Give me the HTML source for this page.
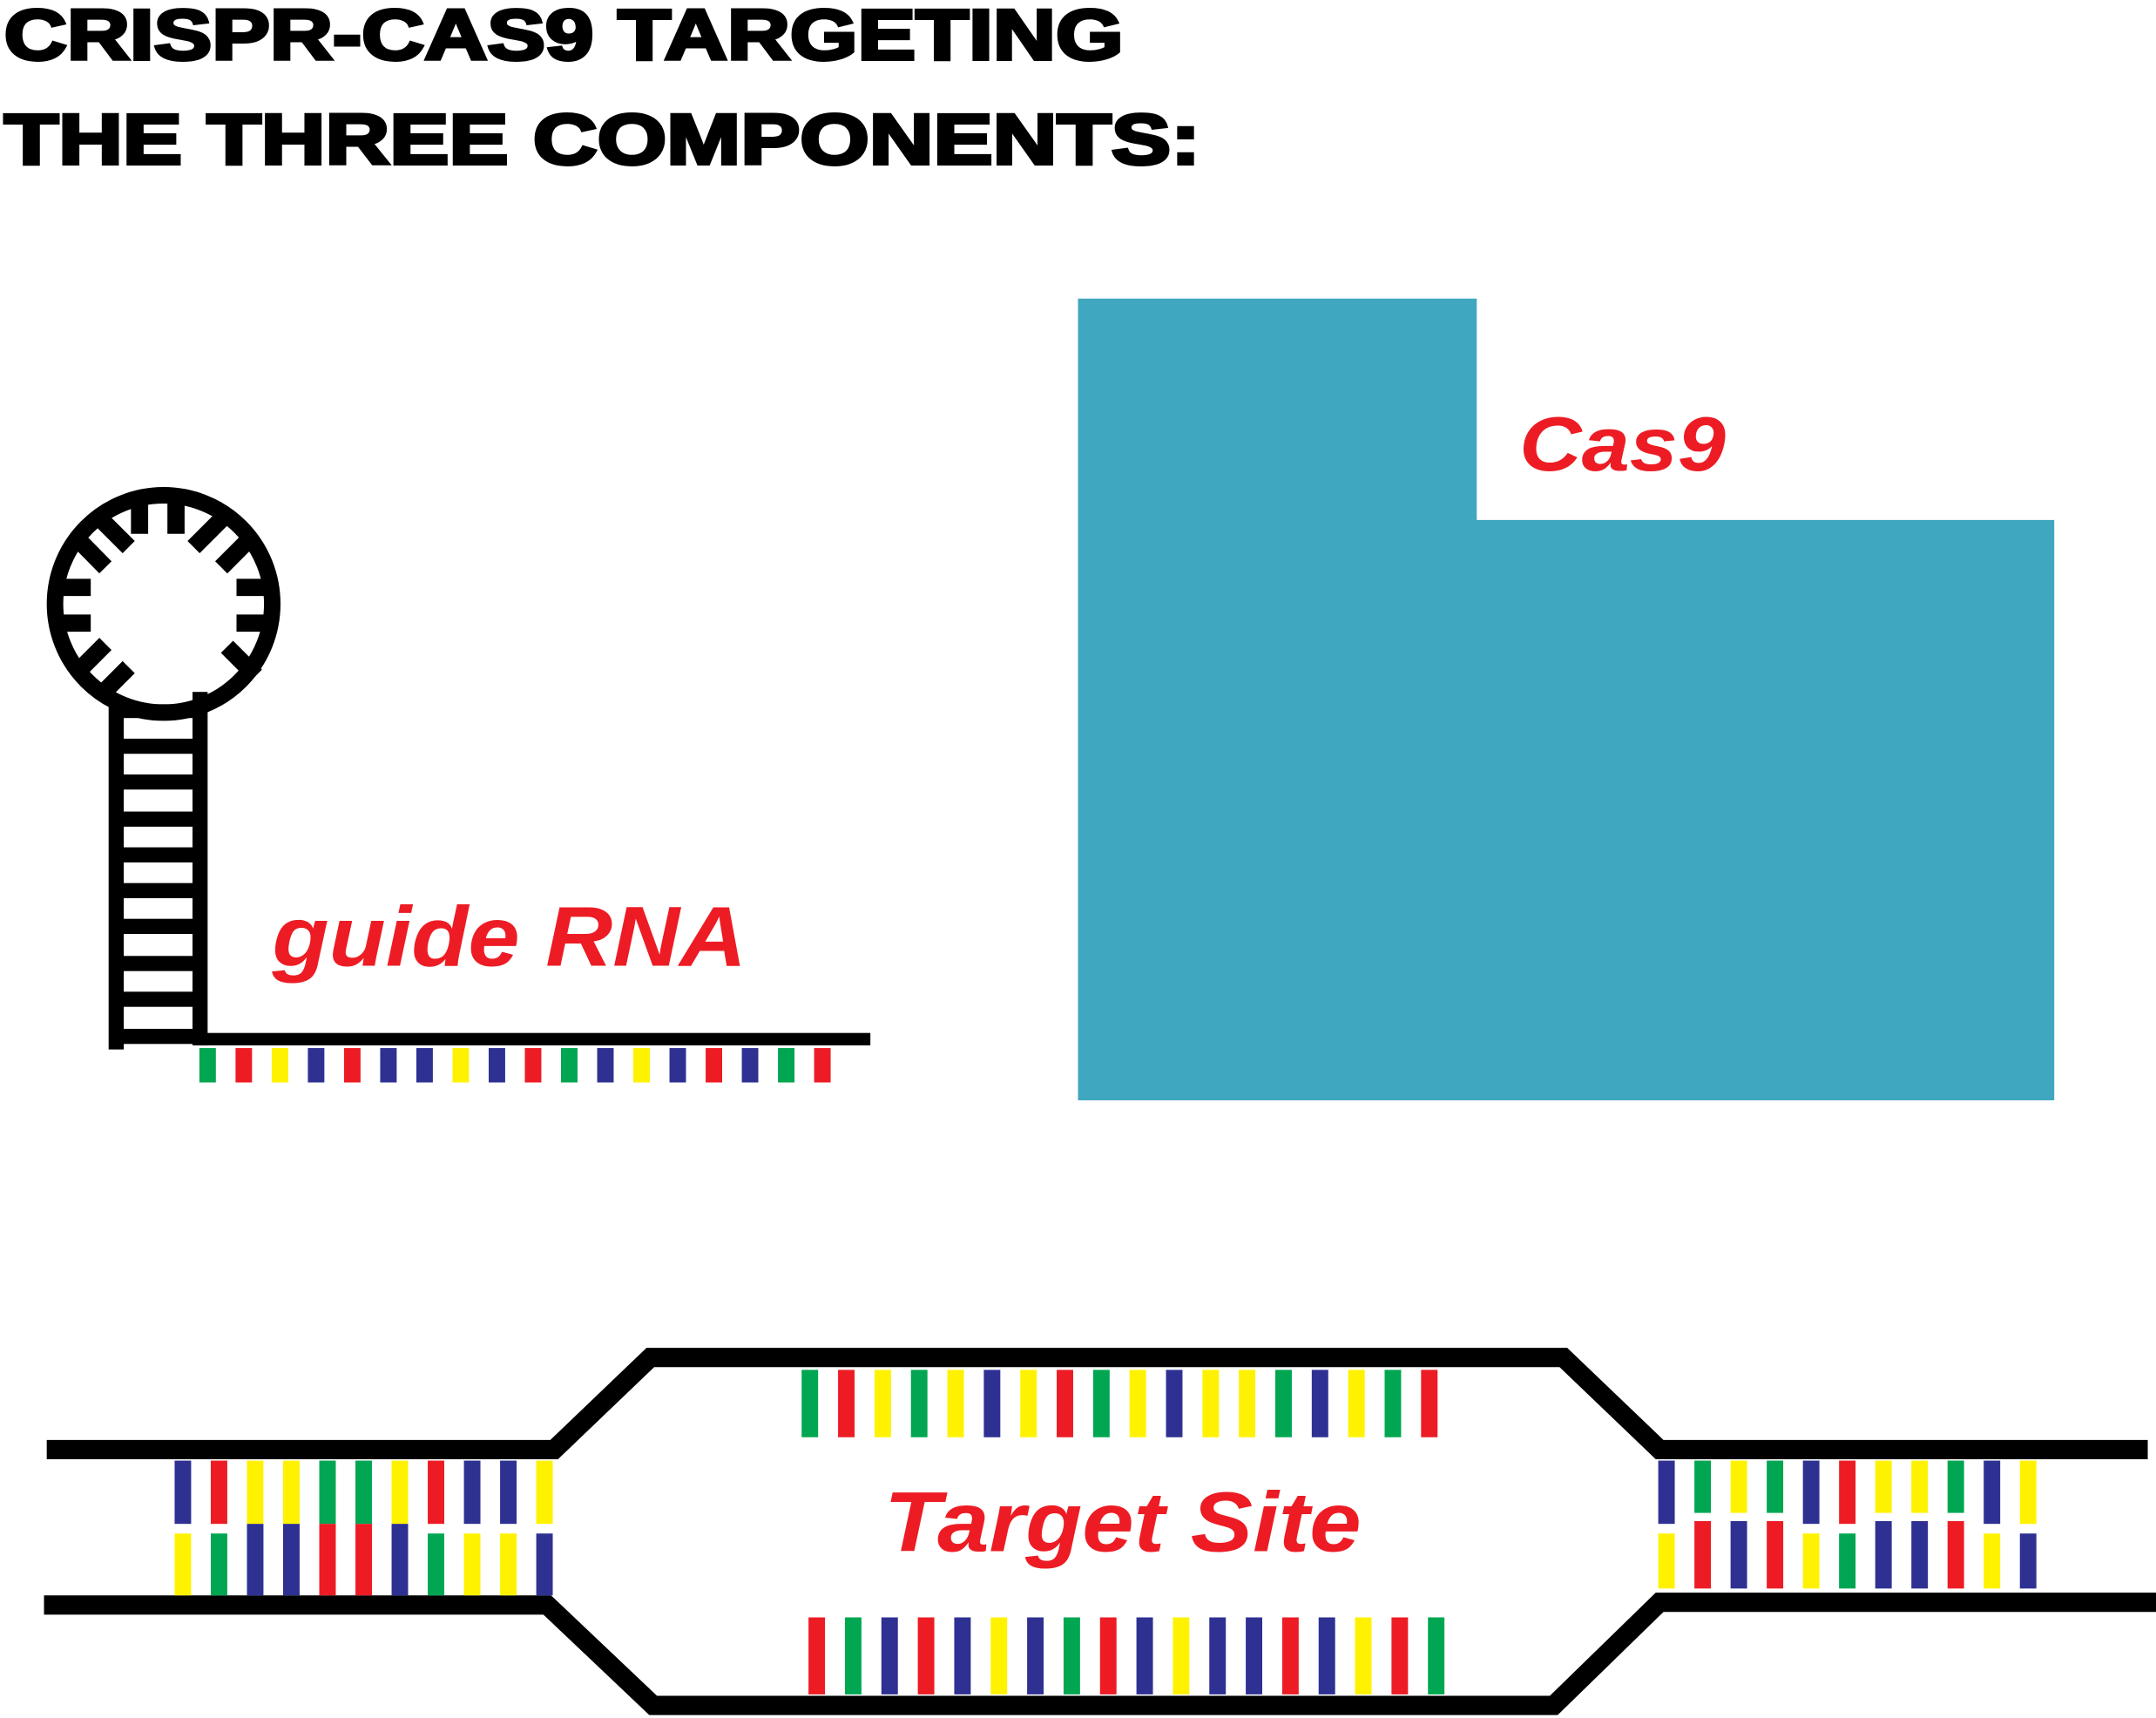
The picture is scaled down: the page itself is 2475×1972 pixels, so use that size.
<!DOCTYPE html>
<html><head><meta charset="utf-8"><style>html,body{margin:0;padding:0;background:#fff}svg{display:block}.G{fill:#00a651}.R{fill:#ed1c24}.Y{fill:#fff200}.B{fill:#2e3192}</style></head>
<body>
<svg width="2475" height="1972" viewBox="0 0 1568 1249" xmlns="http://www.w3.org/2000/svg">
<rect width="1568" height="1249" fill="#fff"/>
<g font-family="Liberation Sans, sans-serif" font-weight="bold" fill="#000" stroke="#000" stroke-width="2.5">
<text x="3" y="43" font-size="52" textLength="814" lengthAdjust="spacingAndGlyphs">CRISPR-CAS9 TARGETING</text>
<text x="3" y="119" font-size="52" textLength="870" lengthAdjust="spacingAndGlyphs">THE THREE COMPONENTS:</text>
</g>
<polygon points="784,217 1074,217 1074,378 1494,378 1494,800 784,800" fill="#3fa7bf"/>
<text x="1105" y="342" font-family="Liberation Sans, sans-serif" font-weight="bold" font-style="italic" font-size="56" fill="#ed1c24" textLength="150" lengthAdjust="spacingAndGlyphs">Cas9</text>
<circle cx="119" cy="439" r="79" fill="none" stroke="#000" stroke-width="12"/>
<g stroke="#000" stroke-width="12.5">
<line x1="101.5" y1="366" x2="101.5" y2="388"/><line x1="128" y1="366" x2="128" y2="388"/>
<line x1="56" y1="391.4" x2="76.7" y2="412.4"/><line x1="72.6" y1="376.7" x2="93.6" y2="397.7"/>
<line x1="161.8" y1="376.7" x2="140.8" y2="397.7"/><line x1="181.9" y1="391.4" x2="160.9" y2="412.4"/>
<line x1="45" y1="427" x2="66" y2="427"/><line x1="45" y1="453" x2="66" y2="453"/>
<line x1="172" y1="427" x2="193" y2="427"/><line x1="172" y1="453" x2="193" y2="453"/>
<line x1="186.1" y1="491.2" x2="165.1" y2="470.2"/>
<line x1="55.7" y1="489.1" x2="76.7" y2="468.1"/><line x1="72.6" y1="506" x2="93.6" y2="485"/>
</g>
<rect x="79" y="508" width="11" height="255" fill="#000"/>
<rect x="140" y="503" width="11" height="257" fill="#000"/>
<g fill="#000">
<rect x="88" y="512" width="54" height="10"/>
<rect x="88" y="537" width="54" height="11"/><rect x="88" y="563" width="54" height="11"/><rect x="88" y="590" width="54" height="11"/>
<rect x="88" y="616" width="54" height="11"/><rect x="88" y="642" width="54" height="11"/><rect x="88" y="668" width="54" height="11"/>
<rect x="88" y="695" width="54" height="11"/><rect x="88" y="721" width="54" height="11"/><rect x="88" y="748" width="54" height="11"/>
</g>
<rect x="146" y="751" width="487" height="9" fill="#000"/>
<g>
<rect class="G" x="145" y="762" width="12" height="25"/><rect class="R" x="171.3" y="762" width="12" height="25"/><rect class="Y" x="197.6" y="762" width="12" height="25"/><rect class="B" x="223.9" y="762" width="12" height="25"/><rect class="R" x="250.2" y="762" width="12" height="25"/><rect class="B" x="276.5" y="762" width="12" height="25"/><rect class="B" x="302.8" y="762" width="12" height="25"/><rect class="Y" x="329.1" y="762" width="12" height="25"/><rect class="B" x="355.4" y="762" width="12" height="25"/><rect class="R" x="381.7" y="762" width="12" height="25"/><rect class="G" x="408" y="762" width="12" height="25"/><rect class="B" x="434.3" y="762" width="12" height="25"/><rect class="Y" x="460.6" y="762" width="12" height="25"/><rect class="B" x="486.9" y="762" width="12" height="25"/><rect class="R" x="513.2" y="762" width="12" height="25"/><rect class="B" x="539.5" y="762" width="12" height="25"/><rect class="G" x="565.8" y="762" width="12" height="25"/><rect class="R" x="592.1" y="762" width="12" height="25"/>
</g>
<text x="198" y="702" font-family="Liberation Sans, sans-serif" font-weight="bold" font-style="italic" font-size="62" fill="#ed1c24" textLength="345" lengthAdjust="spacingAndGlyphs">guide RNA</text>
<g stroke="#000" stroke-width="14" fill="none">
<polyline points="34,1054 403,1054 473,987 1137,987 1207,1054 1562,1054"/>
<polyline points="32,1167 398,1167 475,1240 1130,1240 1207,1165 1568,1165"/>
</g>
<text x="643" y="1128" font-family="Liberation Sans, sans-serif" font-weight="bold" font-style="italic" font-size="62" fill="#ed1c24" textLength="347" lengthAdjust="spacingAndGlyphs">Target Site</text>
<g>
<rect class="B" x="127" y="1062" width="12" height="46"/><rect class="R" x="153.3" y="1062" width="12" height="46"/><rect class="Y" x="179.6" y="1062" width="12" height="46"/><rect class="Y" x="205.9" y="1062" width="12" height="46"/><rect class="G" x="232.2" y="1062" width="12" height="46"/><rect class="G" x="258.5" y="1062" width="12" height="46"/><rect class="Y" x="284.8" y="1062" width="12" height="46"/><rect class="R" x="311.1" y="1062" width="12" height="46"/><rect class="B" x="337.4" y="1062" width="12" height="46"/><rect class="B" x="363.7" y="1062" width="12" height="46"/><rect class="Y" x="390" y="1062" width="12" height="46"/>
</g>
<g>
<rect class="Y" x="127" y="1115" width="12" height="45"/><rect class="G" x="153.3" y="1115" width="12" height="45"/><rect class="B" x="179.6" y="1108" width="12" height="52"/><rect class="B" x="205.9" y="1108" width="12" height="52"/><rect class="R" x="232.2" y="1108" width="12" height="52"/><rect class="R" x="258.5" y="1108" width="12" height="52"/><rect class="B" x="284.8" y="1108" width="12" height="52"/><rect class="G" x="311.1" y="1115" width="12" height="45"/><rect class="Y" x="337.4" y="1115" width="12" height="45"/><rect class="Y" x="363.7" y="1115" width="12" height="45"/><rect class="B" x="390" y="1115" width="12" height="45"/>
</g>
<g>
<rect class="G" x="583" y="996" width="12" height="49"/><rect class="R" x="609.5" y="996" width="12" height="49"/><rect class="Y" x="636" y="996" width="12" height="49"/><rect class="G" x="662.5" y="996" width="12" height="49"/><rect class="Y" x="689" y="996" width="12" height="49"/><rect class="B" x="715.5" y="996" width="12" height="49"/><rect class="Y" x="742" y="996" width="12" height="49"/><rect class="R" x="768.5" y="996" width="12" height="49"/><rect class="G" x="795" y="996" width="12" height="49"/><rect class="Y" x="821.5" y="996" width="12" height="49"/><rect class="B" x="848" y="996" width="12" height="49"/><rect class="Y" x="874.5" y="996" width="12" height="49"/><rect class="Y" x="901" y="996" width="12" height="49"/><rect class="G" x="927.5" y="996" width="12" height="49"/><rect class="B" x="954" y="996" width="12" height="49"/><rect class="Y" x="980.5" y="996" width="12" height="49"/><rect class="G" x="1007" y="996" width="12" height="49"/><rect class="R" x="1033.5" y="996" width="12" height="49"/>
</g>
<g>
<rect class="R" x="588" y="1176" width="12" height="56"/><rect class="G" x="614.5" y="1176" width="12" height="56"/><rect class="B" x="641" y="1176" width="12" height="56"/><rect class="R" x="667.5" y="1176" width="12" height="56"/><rect class="B" x="694" y="1176" width="12" height="56"/><rect class="Y" x="720.5" y="1176" width="12" height="56"/><rect class="B" x="747" y="1176" width="12" height="56"/><rect class="G" x="773.5" y="1176" width="12" height="56"/><rect class="R" x="800" y="1176" width="12" height="56"/><rect class="B" x="826.5" y="1176" width="12" height="56"/><rect class="Y" x="853" y="1176" width="12" height="56"/><rect class="B" x="879.5" y="1176" width="12" height="56"/><rect class="B" x="906" y="1176" width="12" height="56"/><rect class="R" x="932.5" y="1176" width="12" height="56"/><rect class="B" x="959" y="1176" width="12" height="56"/><rect class="Y" x="985.5" y="1176" width="12" height="56"/><rect class="R" x="1012" y="1176" width="12" height="56"/><rect class="G" x="1038.5" y="1176" width="12" height="56"/>
</g>
<g>
<rect class="B" x="1206" y="1062" width="12" height="46"/><rect class="G" x="1232.3" y="1062" width="12" height="38"/><rect class="Y" x="1258.6" y="1062" width="12" height="38"/><rect class="G" x="1284.9" y="1062" width="12" height="38"/><rect class="B" x="1311.2" y="1062" width="12" height="46"/><rect class="R" x="1337.5" y="1062" width="12" height="46"/><rect class="Y" x="1363.8" y="1062" width="12" height="38"/><rect class="Y" x="1390.1" y="1062" width="12" height="38"/><rect class="G" x="1416.4" y="1062" width="12" height="38"/><rect class="B" x="1442.7" y="1062" width="12" height="46"/><rect class="Y" x="1469" y="1062" width="12" height="46"/>
</g>
<g>
<rect class="Y" x="1206" y="1115" width="12" height="40"/><rect class="R" x="1232.3" y="1106" width="12" height="49"/><rect class="B" x="1258.6" y="1106" width="12" height="49"/><rect class="R" x="1284.9" y="1106" width="12" height="49"/><rect class="Y" x="1311.2" y="1115" width="12" height="40"/><rect class="G" x="1337.5" y="1115" width="12" height="40"/><rect class="B" x="1363.8" y="1106" width="12" height="49"/><rect class="B" x="1390.1" y="1106" width="12" height="49"/><rect class="R" x="1416.4" y="1106" width="12" height="49"/><rect class="Y" x="1442.7" y="1115" width="12" height="40"/><rect class="B" x="1469" y="1115" width="12" height="40"/>
</g>
</svg>
</body></html>
